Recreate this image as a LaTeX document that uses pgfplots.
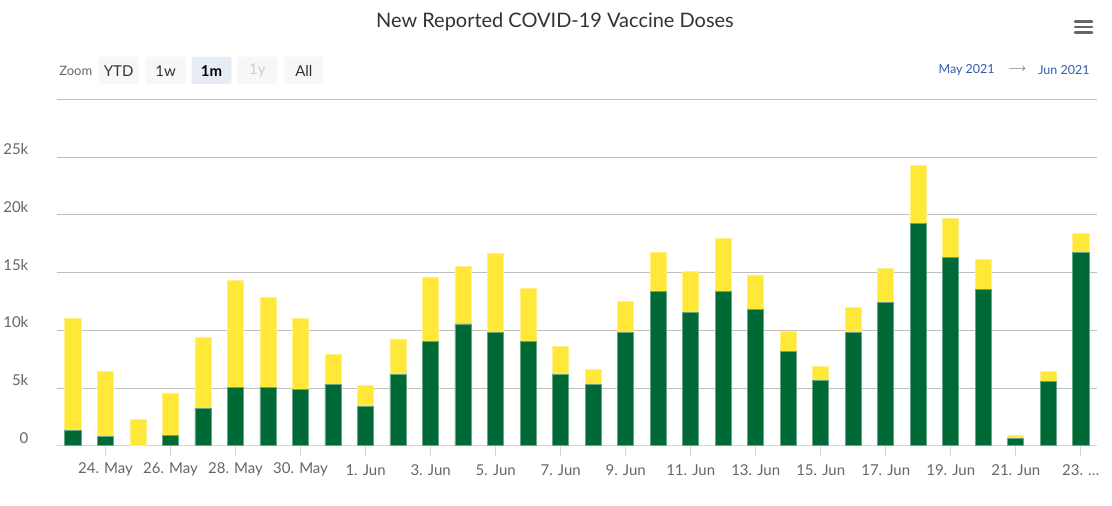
\documentclass[border=0pt]{standalone}
\usepackage{pgfplots}
\pgfplotsset{compat=1.18}
\usepackage{fontspec}
\setmainfont{Lato}
\definecolor{cgreen}{RGB}{0,106,55}
\definecolor{cyellow}{RGB}{255,232,56}
\definecolor{grid}{RGB}{232,232,236}
\definecolor{axisc}{RGB}{204,214,235}
\definecolor{lab}{RGB}{102,102,102}
\definecolor{ttl}{RGB}{51,51,51}
\definecolor{btn}{RGB}{247,247,247}
\definecolor{btnsel}{RGB}{230,235,245}
\definecolor{rng}{RGB}{51,92,173}
\begin{document}
\begin{tikzpicture}[x=1bp,y=1bp]
\path[fill=white] (0,0) rectangle (1112,506);
% title
\node[text=ttl,font=\fontsize{20bp}{23bp}\selectfont] at (554,484.5) {New Reported COVID-19 Vaccine Doses};
% hamburger
\foreach \yy in {473.5,479,484.5} {\draw[lab,line width=2.6bp,line cap=round] (1075,\yy) -- (1092,\yy);}
% zoom buttons
\node[text=lab,anchor=west,font=\fontsize{13bp}{15bp}\selectfont] at (54,435) {Zoom};
\path[fill=btn,rounded corners=1.5bp] (97,422) rectangle (137,449);
\path[fill=btn,rounded corners=1.5bp] (144,422) rectangle (184,449);
\path[fill=btnsel,rounded corners=1.5bp] (190,422) rectangle (230,449);
\path[fill=btn,rounded corners=1.5bp] (236,422) rectangle (276,449);
\path[fill=btn,rounded corners=1.5bp] (283,422) rectangle (322,449);
\node[text=ttl,font=\fontsize{15bp}{17bp}\selectfont] at (117,435) {YTD};
\node[text=ttl,font=\fontsize{15bp}{17bp}\selectfont] at (164,435) {1w};
\node[text=black,font=\fontsize{15bp}{17bp}\selectfont\bfseries] at (210,435) {1m};
\node[text=black!20,font=\fontsize{15bp}{17bp}\selectfont] at (256,435) {1y};
\node[text=ttl,font=\fontsize{15bp}{17bp}\selectfont] at (302.5,435) {All};
% range
\node[text=rng,anchor=east,font=\fontsize{12.5bp}{15bp}\selectfont] at (998,436) {May 2021};
\node[text=ttl,font=\fontsize{11bp}{15bp}\selectfont] at (1017,436) {$\longrightarrow$};
\node[text=rng,anchor=east,font=\fontsize{12.5bp}{15bp}\selectfont] at (1093,436) {Jun 2021};
\begin{axis}[
  at={(55bp,59.4bp)}, anchor=south west,
  scale only axis, width=1042bp, height=346.9bp,
  xmin=-0.5, xmax=31.5, ymin=0, ymax=30000,
  ybar stacked, bar width=0.5,
  axis x line*=bottom, axis y line*=left,
  x axis line style={axisc,line width=1bp,-},
  y axis line style={draw=none},
  ytick={0,5000,10000,15000,20000,25000,30000},
  yticklabels={0,5k,10k,15k,20k,25k,},
  xmajorgrids=false,
  ymajorgrids=true, grid style={grid,line width=1bp},
  xtick={1,3,...,31},
  xticklabels={24. May,26. May,28. May,30. May,1. Jun,3. Jun,5. Jun,7. Jun,9. Jun,11. Jun,13. Jun,15. Jun,17. Jun,19. Jun,21. Jun,23. …},
  tick align=outside, major tick length=10bp,
  xtick style={axisc,line width=1bp},
  ytick style={draw=none},
  xticklabel style={text=lab,font=\fontsize{15bp}{17bp}\selectfont,anchor=center,yshift=-14bp},
  yticklabel style={text=lab,font=\fontsize{15bp}{17bp}\selectfont,anchor=east,yshift=8bp,xshift=-15bp},
  scaled y ticks=false,
  clip=false,
]
\addplot[fill=cgreen,draw=cgreen!60!white,line width=0.8bp] coordinates {
(0,1300)(1,780)(2,0)(3,900)(4,3270)(5,5020)(6,5020)(7,4900)(8,5340)(9,3390)
(10,6210)(11,9050)(12,10560)(13,9810)(14,9050)(15,6210)(16,5340)(17,9810)(18,13410)(19,11550)
(20,13410)(21,11780)(22,8180)(23,5690)(24,9810)(25,12420)(26,19270)(27,16340)(28,13520)(29,660)
(30,5540)(31,16780)};
\addplot[fill=cyellow,draw=cyellow!60!white,line width=0.8bp] coordinates {
(0,9700)(1,5630)(2,2290)(3,3680)(4,6100)(5,9330)(6,7840)(7,6100)(8,2610)(9,1830)
(10,3050)(11,5550)(12,5000)(13,6880)(14,4590)(15,2380)(16,1300)(17,2730)(18,3370)(19,3570)
(20,4590)(21,3020)(22,1720)(23,1160)(24,2170)(25,2940)(26,5000)(27,3370)(28,2590)(29,240)
(30,870)(31,1620)};
\end{axis}
\end{tikzpicture}
\end{document}
